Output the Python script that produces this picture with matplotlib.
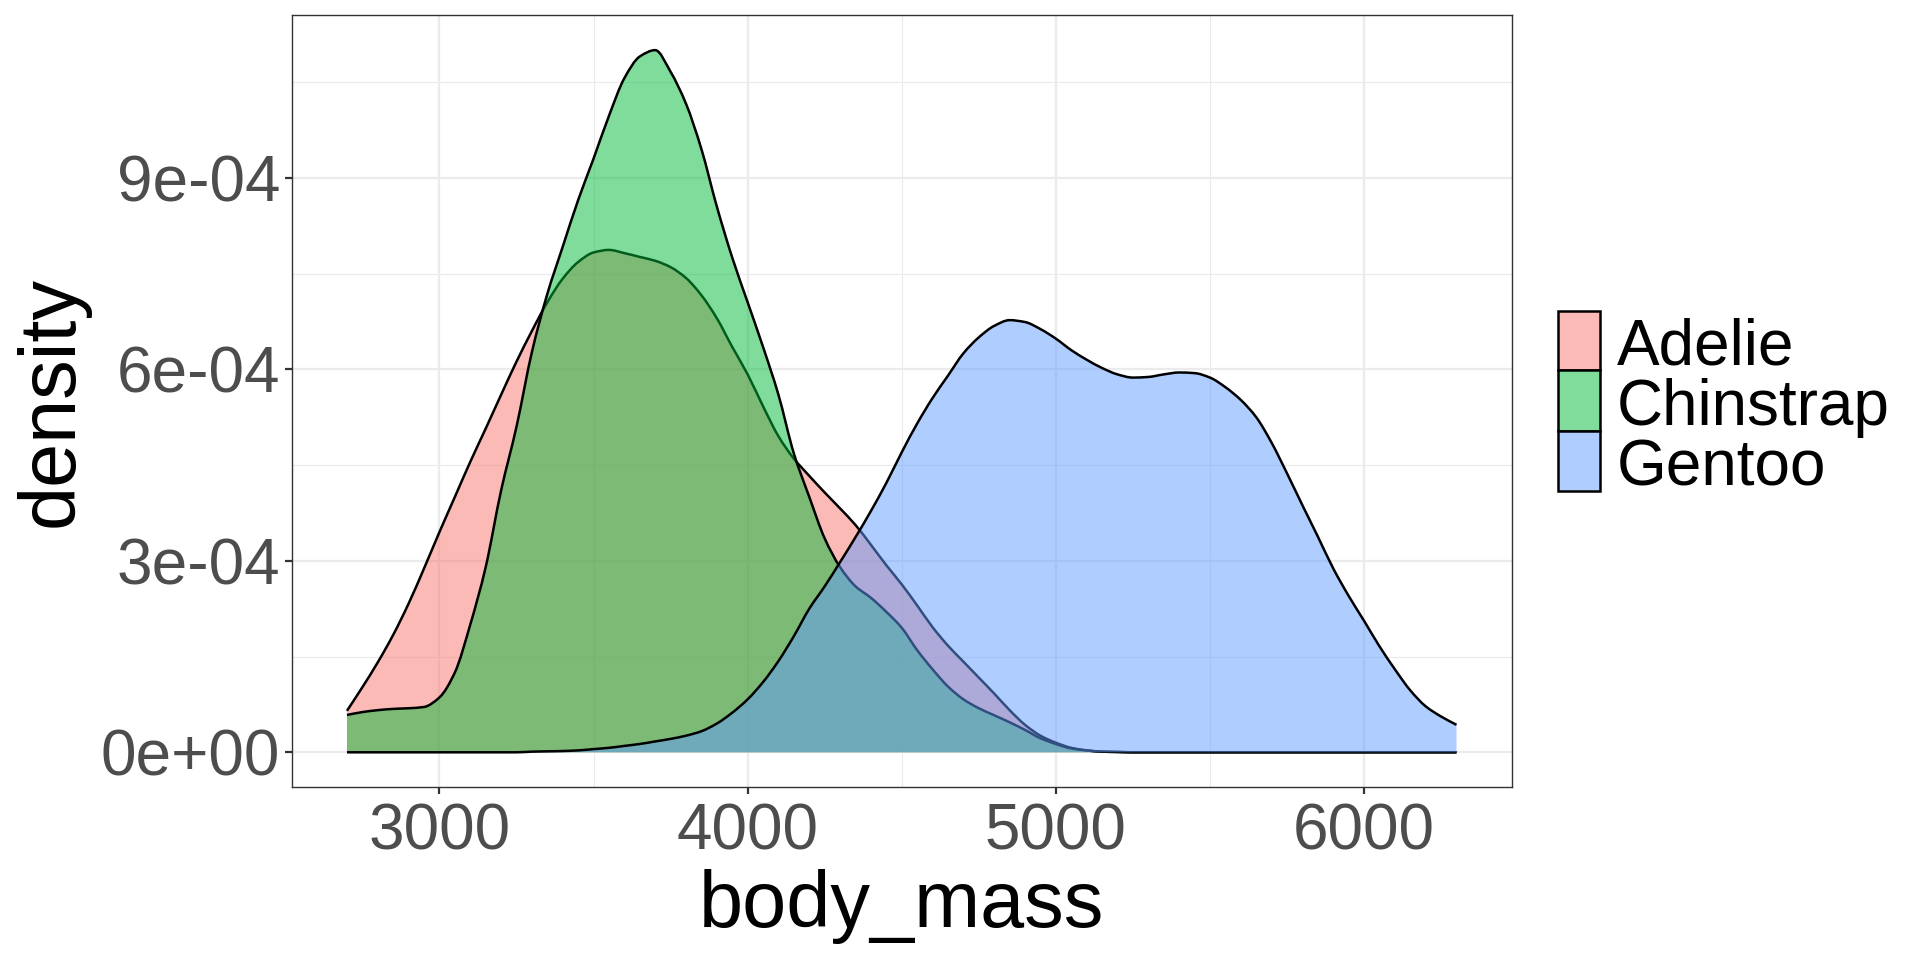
import matplotlib
matplotlib.use("Agg")
import matplotlib.pyplot as plt
from matplotlib.patches import Rectangle, PathPatch
from matplotlib.path import Path
from matplotlib.ticker import FixedLocator
import numpy as np

plt.rcParams['font.family'] = ['Liberation Sans', 'DejaVu Sans']

# ---------------- data ----------------
species = ["Adelie", "Chinstrap", "Gentoo"]
colors = ["#F8766D", "#00BA38", "#619CFF"]

body_mass = list(range(2700, 6301, 50))

adelie = [6.5e-5, 1.02e-4, 1.41e-4, 1.84e-4, 2.33e-4, 2.88e-4, 3.45e-4, 4.0e-4,
          4.55e-4, 5.07e-4, 5.6e-4, 6.12e-4, 6.6e-4, 7.05e-4, 7.42e-4, 7.68e-4,
          7.83e-4, 7.87e-4, 7.82e-4, 7.76e-4, 7.7e-4, 7.6e-4, 7.43e-4, 7.16e-4,
          6.8e-4, 6.35e-4, 5.92e-4, 5.42e-4, 4.95e-4, 4.6e-4, 4.33e-4, 4.07e-4,
          3.82e-4, 3.56e-4, 3.25e-4, 2.93e-4, 2.63e-4, 2.3e-4, 1.96e-4, 1.67e-4,
          1.42e-4, 1.17e-4, 9.2e-5, 6.6e-5, 4.3e-5, 2.6e-5, 1.5e-5, 7e-6,
          3e-6, 1e-6, 5e-7, 0, 0, 0, 0, 0,
          0, 0, 0, 0, 0, 0, 0, 0,
          0, 0, 0, 0, 0, 0, 0, 0, 0]

chinstrap = [5.85e-5, 6.3e-5, 6.6e-5, 6.8e-5, 6.9e-5, 7.1e-5, 8.6e-5, 1.25e-4,
             2.0e-4, 2.9e-4, 4.1e-4, 5.1e-4, 6.27e-4, 7.18e-4, 7.92e-4, 8.65e-4,
             9.3e-4, 9.97e-4, 1.056e-3, 1.09e-3, 1.1e-3, 1.066e-3, 1.016e-3, 9.45e-4,
             8.55e-4, 7.75e-4, 7.05e-4, 6.35e-4, 5.6e-4, 4.68e-4, 4.0e-4, 3.35e-4,
             2.9e-4, 2.6e-4, 2.42e-4, 2.2e-4, 1.95e-4, 1.6e-4, 1.3e-4, 1.03e-4,
             8.3e-5, 6.9e-5, 5.8e-5, 4.7e-5, 3.5e-5, 2.2e-5, 1.3e-5, 6e-6,
             3e-6, 1e-6, 5e-7, 0, 0, 0, 0, 0,
             0, 0, 0, 0, 0, 0, 0, 0,
             0, 0, 0, 0, 0, 0, 0, 0, 0]

gentoo = [0, 0, 0, 0, 0, 0, 0, 0,
          0, 0, 0, 0, 1e-6, 1.5e-6, 2e-6, 3e-6,
          5e-6, 7e-6, 1e-5, 1.3e-5, 1.7e-5, 2.1e-5, 2.6e-5, 3.3e-5,
          4.5e-5, 6.2e-5, 8.3e-5, 1.1e-4, 1.43e-4, 1.82e-4, 2.25e-4, 2.6e-4,
          2.98e-4, 3.37e-4, 3.78e-4, 4.22e-4, 4.7e-4, 5.15e-4, 5.55e-4, 5.9e-4,
          6.25e-4, 6.5e-4, 6.68e-4, 6.77e-4, 6.74e-4, 6.63e-4, 6.48e-4, 6.3e-4,
          6.15e-4, 6.02e-4, 5.92e-4, 5.87e-4, 5.88e-4, 5.92e-4, 5.95e-4, 5.94e-4,
          5.87e-4, 5.72e-4, 5.52e-4, 5.25e-4, 4.85e-4, 4.37e-4, 3.87e-4, 3.38e-4,
          2.88e-4, 2.45e-4, 2.06e-4, 1.66e-4, 1.3e-4, 9.7e-5, 7.2e-5, 5.6e-5, 4.3e-5]

densities = [adelie, chinstrap, gentoo]

x_ticks = [3000, 4000, 5000, 6000]
x_minor = [3500, 4500, 5500]
y_ticks = [0, 3e-4, 6e-4, 9e-4]
y_tick_labels = ["0e+00", "3e-04", "6e-04", "9e-04"]
y_minor = [1.5e-4, 4.5e-4, 7.5e-4, 1.05e-3]


def smooth_path(xs, ys, close_to_baseline=False):
    """Monotone cubic (Fritsch-Carlson) Bezier path through the data points."""
    x = np.asarray(xs, float)
    y = np.asarray(ys, float)
    h = np.diff(x)
    delta = np.diff(y) / h
    n = len(x)
    m = np.zeros(n)
    m[0], m[-1] = delta[0], delta[-1]
    for i in range(1, n - 1):
        if delta[i - 1] * delta[i] <= 0:
            m[i] = 0.0
        else:
            w1 = 2 * h[i] + h[i - 1]
            w2 = h[i] + 2 * h[i - 1]
            m[i] = (w1 + w2) / (w1 / delta[i - 1] + w2 / delta[i])
    verts = [(x[0], y[0])]
    codes = [Path.MOVETO]
    for i in range(n - 1):
        verts += [(x[i] + h[i] / 3, y[i] + m[i] * h[i] / 3),
                  (x[i + 1] - h[i] / 3, y[i + 1] - m[i + 1] * h[i] / 3),
                  (x[i + 1], y[i + 1])]
        codes += [Path.CURVE4] * 3
    if close_to_baseline:
        verts += [(x[-1], 0.0), (x[0], 0.0), (x[0], y[0])]
        codes += [Path.LINETO, Path.LINETO, Path.CLOSEPOLY]
    return Path(verts, codes)


# ---------------- figure ----------------
W, H = 1920, 960
fig = plt.figure(figsize=(W / 100, H / 100), dpi=100)
ax_left, ax_right, ax_top, ax_bottom = 291.5, 1512.0, 14.7, 787.4
ax = fig.add_axes([ax_left / W, 1 - ax_bottom / H,
                   (ax_right - ax_left) / W, (ax_bottom - ax_top) / H])

for d, c in zip(densities, colors):
    ax.add_patch(PathPatch(smooth_path(body_mass, d, True), facecolor=c,
                           alpha=0.5, edgecolor="none", zorder=2))
    ax.add_patch(PathPatch(smooth_path(body_mass, d), facecolor="none",
                           edgecolor="black", linewidth=1.8, zorder=2,
                           joinstyle="round", capstyle="butt"))

ax.set_xlim(2520, 6480)
ax.set_ylim(-5.5e-5, 1.1555e-3)

ax.xaxis.set_major_locator(FixedLocator(x_ticks))
ax.xaxis.set_minor_locator(FixedLocator(x_minor))
ax.yaxis.set_major_locator(FixedLocator(y_ticks))
ax.yaxis.set_minor_locator(FixedLocator(y_minor))
ax.set_yticklabels(y_tick_labels)

ax.grid(True, which="major", color="#EBEBEB", linewidth=1.6, zorder=0)
ax.grid(True, which="minor", color="#EBEBEB", linewidth=0.8, zorder=0)
ax.set_axisbelow(True)

for s in ax.spines.values():
    s.set_color("#333333")
    s.set_linewidth(1.0)

ax.tick_params(which="major", length=5.2, width=1.6, color="#333333",
               labelsize=46, labelcolor="#4D4D4D", pad=3)
ax.tick_params(axis="x", which="major", pad=6)
ax.tick_params(which="minor", length=0)

ax.set_xlabel("body_mass", fontsize=57, color="black")
ax.set_ylabel("density", fontsize=57, color="black")
ax.xaxis.set_label_coords(0.5, (ax_bottom - 869) / (ax_bottom - ax_top))
ax.yaxis.set_label_coords((90 - ax_left) / (ax_right - ax_left), 0.5)

# ---------------- legend ----------------
key_x0, key_x1 = 1557.6, 1600.4
key_rows = [(311, 370), (370, 431), (431, 491)]
for (y0, y1), c, name in zip(key_rows, colors, species):
    rect = ((key_x0 / W, 1 - y1 / H), (key_x1 - key_x0) / W, (y1 - y0) / H)
    fig.patches.append(Rectangle(*rect, transform=fig.transFigure,
                                 facecolor="white", edgecolor="none"))
    fig.patches.append(Rectangle(*rect, transform=fig.transFigure,
                                 facecolor=c, alpha=0.5, edgecolor="none"))
    fig.patches.append(Rectangle(*rect, transform=fig.transFigure,
                                 facecolor="none", edgecolor="black", linewidth=1.8))
    fig.text(1617 / W, 1 - ((y0 + y1) / 2 + 24) / H, name, fontsize=46,
             color="black", ha="left", va="baseline")

fig.savefig("out.png", dpi=100)
